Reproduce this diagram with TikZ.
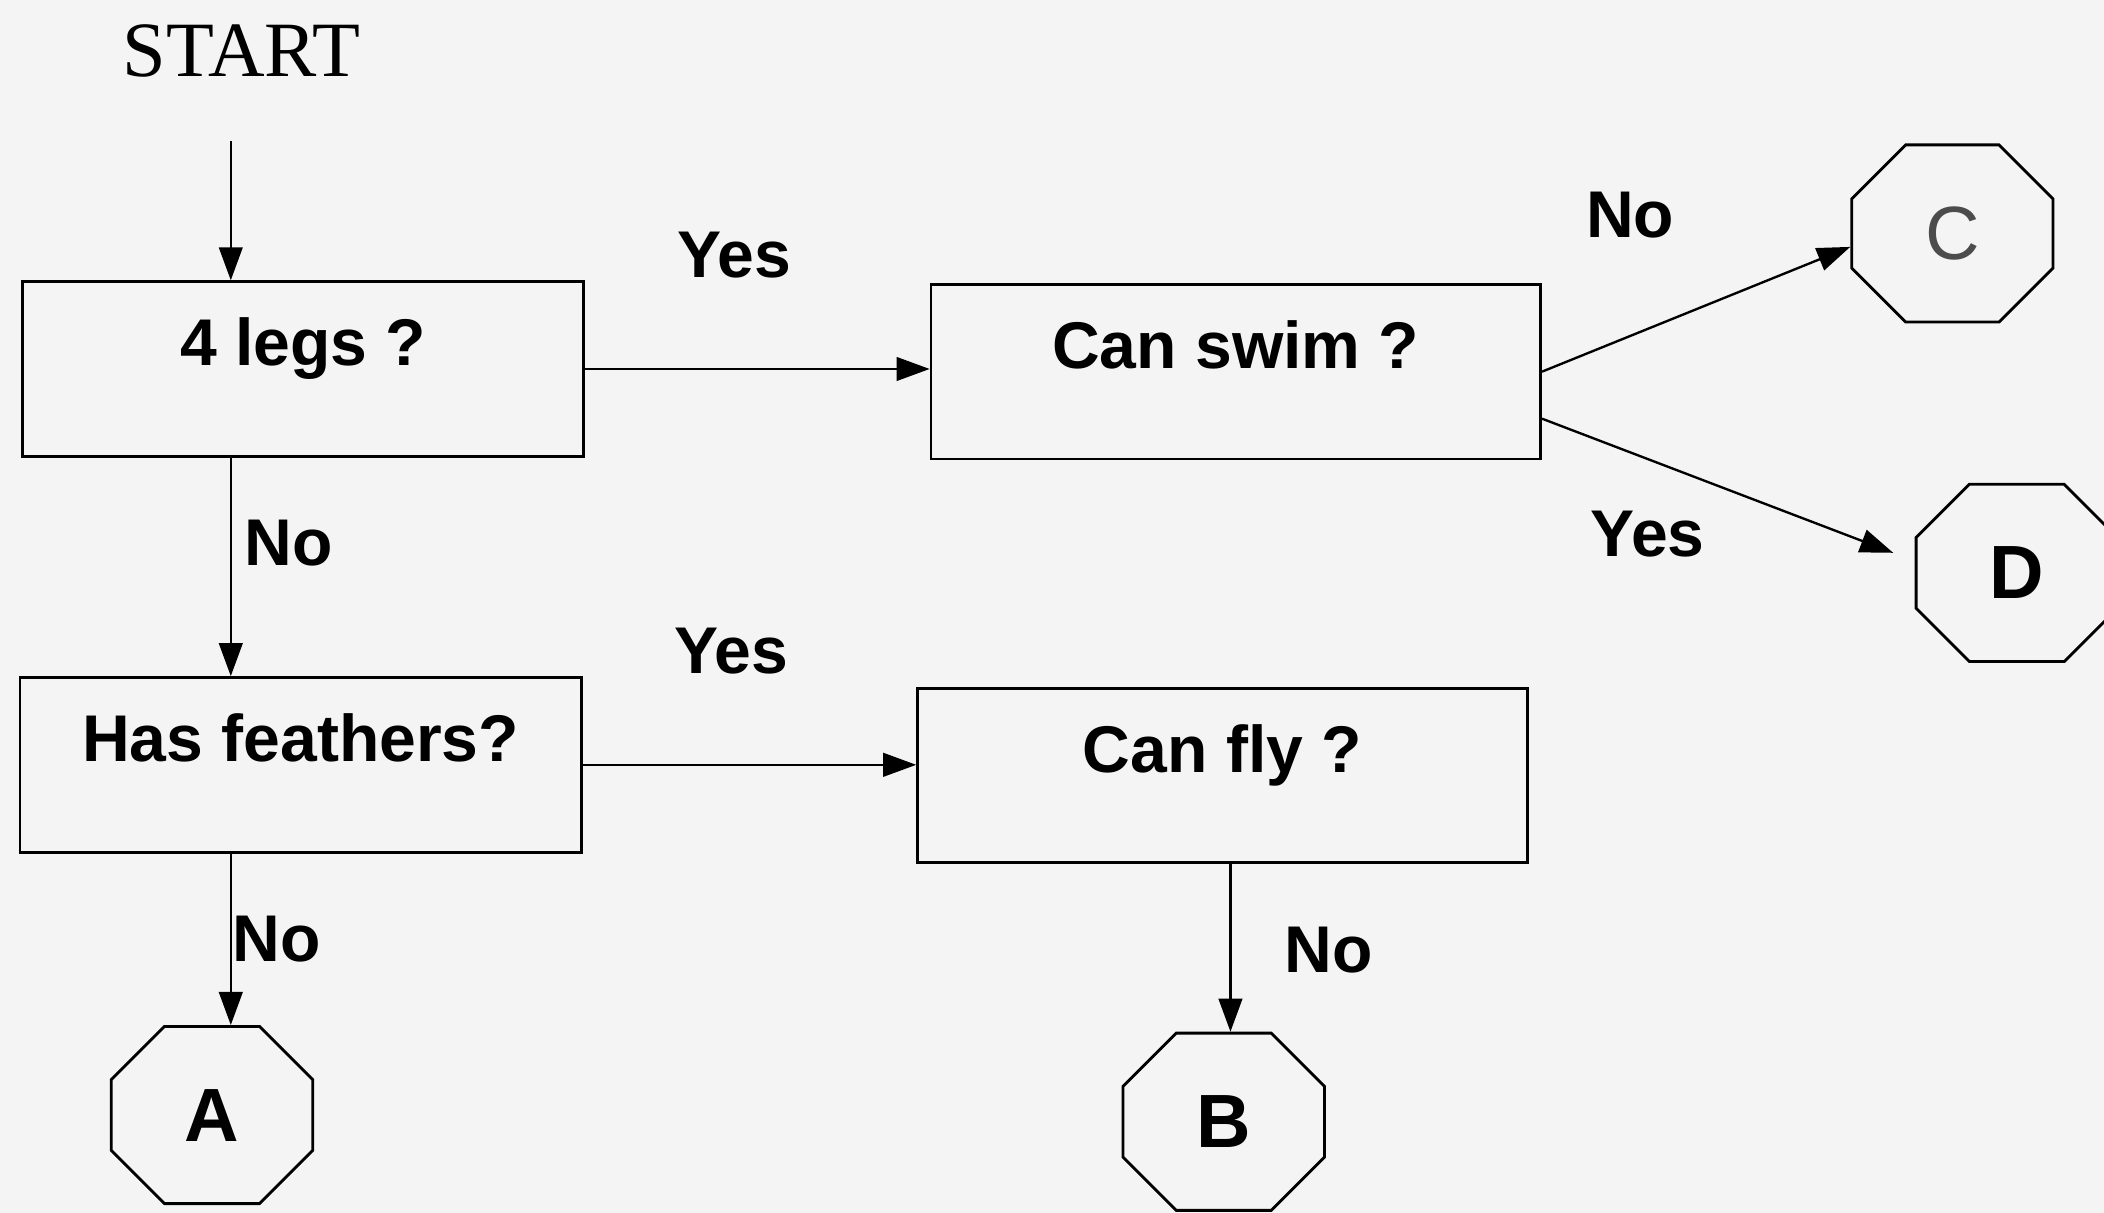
\documentclass[tikz,border=0pt]{standalone}
\usepackage{fontspec}
\setmainfont{Liberation Serif}
\setsansfont{Liberation Sans}
\usetikzlibrary{arrows.meta,shapes.misc}
\definecolor{paper}{HTML}{F4F4F4}

\tikzset{
  qbox/.style={draw,line width=0.6pt,rectangle,minimum width=#1,minimum height=1.3cm,
    text height=10pt,text depth=11.4pt,font=\sffamily\bfseries\fontsize{14}{16}\selectfont},
  octa/.style={draw,line width=0.6pt,chamfered rectangle,chamfered rectangle xsep=0.39cm,
    chamfered rectangle ysep=0.39cm,minimum width=1.5cm,minimum height=1.32cm,inner sep=0pt,
    font=\sffamily\bfseries\fontsize{16}{18}\selectfont},
  lbl/.style={font=\sffamily\bfseries\fontsize{14}{16}\selectfont},
  arr/.style={-{Triangle[length=7pt,width=5pt]},line width=0.5pt},
}

\begin{document}
\begin{tikzpicture}[x=0.01cm,y=-0.01cm]
  \useasboundingbox[fill=paper] (0,0) rectangle (1568,904);

  \node[font=\fontsize{16.6}{18}\selectfont] (start) at (180,38) {START};
  \coordinate (go) at (172,105);

  % question boxes
  \node[qbox=4.18cm] (legs) at (226,275) {4 legs ?};
  \node[qbox=4.54cm] (swim) at (921,277) {Can swim ?};
  \node[qbox=4.18cm] (feathers) at (224,570) {Has feathers?};
  \node[qbox=4.54cm] (fly) at (911,578) {Can fly ?};

  % end points
  \node[octa,font=\sffamily\fontsize{16}{18}\selectfont,text=black!70] (C) at (1455,174) {C};
  \node[octa] (D) at (1503,427) {D};
  \node[octa] (A) at (158,831) {A};
  \node[octa] (B) at (912,836) {B};
  \coordinate (down) at (917,0);

  \draw[arr] (go) -- (legs.north -| go);
  \draw[arr] (legs.south -| go) -- (feathers.north -| go);
  \draw[arr] (legs.east) -- (legs.east -| swim.west);
  \draw[arr] (feathers.east) -- (feathers.east -| fly.west);
  \draw[arr] (swim.east) -- ([yshift=-0.1cm]C.west);
  \draw[arr] ([yshift=-0.35cm]swim.east) -- ([shift={(-0.16cm,0.15cm)}]D.west);
  \draw[arr] (feathers.south -| go) -- (A.north -| go);
  \draw[arr] (fly.south -| down) -- (B.north -| down);

  % answers
  \node[lbl] (yes1) at (547,190) {Yes};
  \node[lbl] (yes2) at (545,485) {Yes};
  \node[lbl] (no1) at (215,405) {No};
  \node[lbl] (no2) at (206,700) {No};
  \node[lbl] (no3) at (990,708) {No};
  \node[lbl] (no4) at (1215,160) {No};
  \node[lbl] (yes3) at (1228,398) {Yes};
\end{tikzpicture}
\end{document}
